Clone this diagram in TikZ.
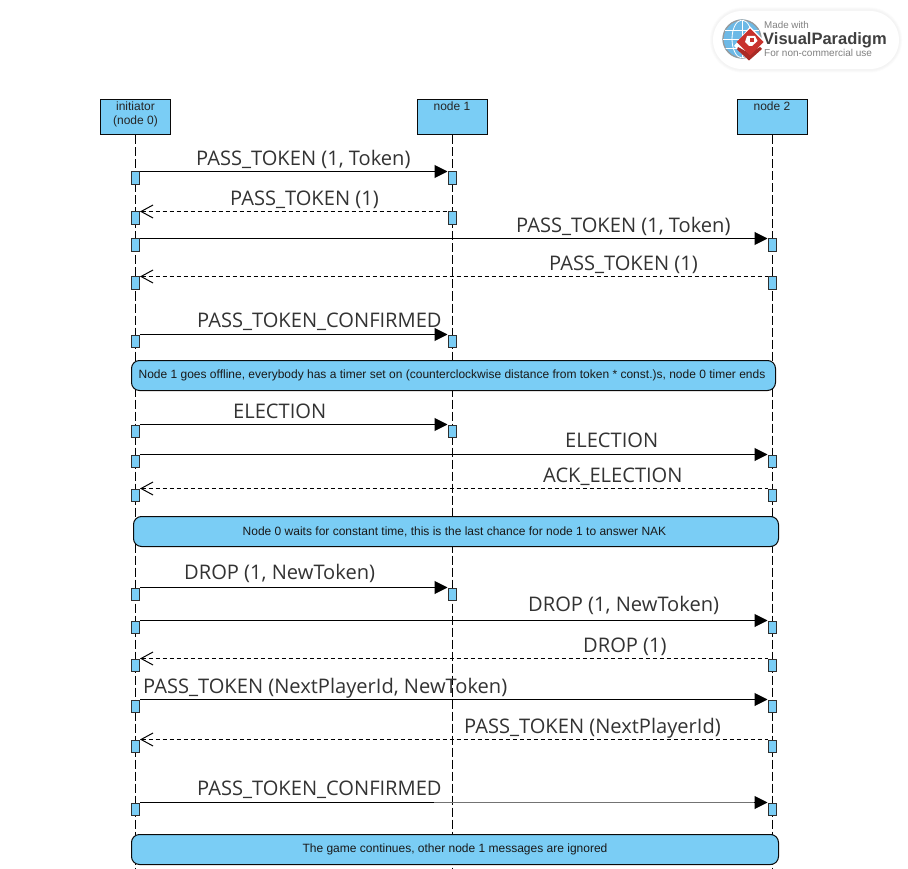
\documentclass[tikz,border=0pt]{standalone}
\usepackage{fontspec}
\setmainfont{Liberation Sans}
\newfontfamily\msgfont{Open Sans}
\usetikzlibrary{arrows.meta,shapes.misc,calc}
\definecolor{vpblue}{HTML}{7ACDF5}
\definecolor{vpink}{HTML}{0A0A0A}
\definecolor{msgtext}{HTML}{333333}
\definecolor{globe}{HTML}{6DB9E6}
\definecolor{logored}{HTML}{C8322D}
\tikzset{
  head/.style={draw=vpink,fill=vpblue,line width=1pt,minimum width=70pt,minimum height=35pt,inner sep=0pt},
  headtext/.style={font=\fontsize{12}{14}\selectfont,text=black!85,align=center,anchor=north,inner sep=0pt},
  life/.style={draw=black,line width=1pt,dash pattern=on 9pt off 3pt},
  act/.style={draw=vpink!85,fill=vpblue,line width=1pt,minimum width=8pt,minimum height=12.5pt,inner sep=0pt,anchor=north,yshift=-.5pt},
  sync/.style={draw=black,line width=1pt,-{Triangle[length=13pt,width=13pt]},shorten >=.5pt},
  reply/.style={draw=black,line width=1pt,dash pattern=on 4pt off 3pt,{Straight Barb[length=12pt,width=13pt,line width=1pt]}-},
  msg/.style={font=\msgfont\fontsize{20.1}{22}\selectfont,text=msgtext,anchor=base west,inner sep=0pt,yshift=-.7pt},
  note/.style={draw=vpink,fill=vpblue,line width=1pt,rounded corners=8pt,minimum height=30pt,inner sep=0pt,anchor=north west},
  notetext/.style={font=\fontsize{12}{14}\selectfont,text=black!90,inner sep=0pt}
}
\begin{document}
\begin{tikzpicture}[x=1pt,y=-1pt]
\useasboundingbox (0,0) rectangle (908,869);
\fill[white] (0,0) rectangle (908,869);
% logo
\foreach \w/\c in {6/black!1.5,4/black!3,2/black!4.5}
  \draw[\c,line width=\w pt,fill=white,rounded corners=29.5pt] (713,10.5) rectangle (899,69.5);
\fill[white,rounded corners=29pt] (713,11) rectangle (899,69);
\fill[globe] (742,39) circle (19.5);
\draw[black!40,line width=1.2pt] (742,39) circle (19);
\begin{scope}
\clip (742,39) circle (19);
\draw[white,line width=.8pt] (723,39) -- (761,39) (723,30) -- (761,30) (723,48) -- (761,48) (742,20) -- (742,58);
\draw[white,line width=.8pt] (742,39) ellipse (10 and 19);
\end{scope}
\fill[white] (750,26.5) -- (766,42.5) -- (750,62) -- (734,46) -- cycle;
\fill[logored!85!black] (738,47) -- (749,53) -- (760,47) -- (762,49) -- (749,60.5) -- (737,49.5) -- cycle;
\fill[logored] (750,28.5) -- (763.5,42) -- (750,55.5) -- (736.5,42) -- cycle;
\fill[white] (747,36) -- (755,36) -- (757.5,41) -- (752,46) -- (749,46) -- (745,42) -- cycle;
\fill[logored] (749.5,38.5) -- (753.5,38.5) -- (753.5,42) -- (749.5,42) -- cycle;
\node[anchor=base west,inner sep=0pt,text=black!50,font=\fontsize{9.8}{11}\selectfont] (logoA) at (764,29) {Made with};
\node[anchor=base west,inner sep=0pt,text=black!75,font=\bfseries\fontsize{16.5}{18}\selectfont] (logoB) at (763,45) {VisualParadigm};
\node[anchor=base west,inner sep=0pt,text=black!50,font=\fontsize{10}{11}\selectfont] (logoC) at (764,57) {For non-commercial use};
% lifelines
\node[head] (h0) at (135.5,117.5) {};
\node[head] (h1) at (452.5,117.5) {};
\node[head] (h2) at (772.5,117.5) {};
\node[headtext] (t0) at (135.5,102) {initiator\\(node 0)};
\node[headtext] (t1) at (452,102) {node 1};
\node[headtext] (t2) at (772,102) {node 2};
\coordinate (e0) at (135.5,869);
\coordinate (e1) at (452.5,869);
\coordinate (e2) at (772.5,869);
\draw[life] (h0.south) -- (e0);
\draw[life] (h1.south) -- (e1);
\draw[life] (h2.south) -- (e2);
% activations
\node[act] (a1) at (135.5,171) {};   \node[act] (b1) at (452.5,171) {};
\node[act] (a2) at (135.5,211) {};   \node[act] (b2) at (452.5,211) {};
\node[act] (a3) at (135.5,238) {};   \node[act] (c3) at (772.5,238) {};
\node[act] (a4) at (135.5,276) {};   \node[act] (c4) at (772.5,276) {};
\node[act] (a5) at (135.5,334) {};   \node[act] (b5) at (452.5,334) {};
\node[act] (a6) at (135.5,424) {};   \node[act] (b6) at (452.5,424) {};
\node[act] (a7) at (135.5,454) {};   \node[act] (c7) at (772.5,454) {};
\node[act] (a8) at (135.5,488) {};   \node[act] (c8) at (772.5,488) {};
\node[act] (a9) at (135.5,587) {};   \node[act] (b9) at (452.5,587) {};
\node[act] (a10) at (135.5,620) {};  \node[act] (c10) at (772.5,620) {};
\node[act] (a11) at (135.5,658) {};  \node[act] (c11) at (772.5,658) {};
\node[act] (a12) at (135.5,699) {};  \node[act] (c12) at (772.5,699) {};
\node[act] (a13) at (135.5,739) {};  \node[act] (c13) at (772.5,739) {};
\node[act] (a14) at (135.5,802) {};  \node[act] (c14) at (772.5,802) {};
% messages
\draw[sync] (a1.north east) -- (b1.north west);
\draw[reply] (a2.north east) -- (b2.north west);
\draw[sync] (a3.north east) -- (c3.north west);
\draw[reply] (a4.north east) -- (c4.north west);
\draw[sync] (a5.north east) -- (b5.north west);
\draw[sync] (a6.north east) -- (b6.north west);
\draw[sync] (a7.north east) -- (c7.north west);
\draw[reply] (a8.north east) -- (c8.north west);
\draw[sync] (a9.north east) -- (b9.north west);
\draw[sync] (a10.north east) -- (c10.north west);
\draw[reply] (a11.north east) -- (c11.north west);
\draw[sync] (a12.north east) -- (c12.north west);
\draw[reply] (a13.north east) -- (c13.north west);
\draw[sync] (a14.north east) -- (c14.north west);
\coordinate (fade) at (434,802.5);
\draw[black!55!white,line width=1.1pt] (fade) -- ($(c14.north west)+(-14,0)$);
% labels
\node[msg] (m1) at (196,165) {PASS\_TOKEN (1, Token)};
\node[msg] (m2) at (230,205) {PASS\_TOKEN (1)};
\node[msg] (m3) at (516,232) {PASS\_TOKEN (1, Token)};
\node[msg] (m4) at (549,270) {PASS\_TOKEN (1)};
\node[msg] (m5) at (197,327) {PASS\_TOKEN\_CONFIRMED};
\node[msg] (m6) at (233,418) {ELECTION};
\node[msg] (m7) at (565,447) {ELECTION};
\node[msg] (m8) at (543,482) {ACK\_ELECTION};
\node[msg] (m9) at (184,579) {DROP (1, NewToken)};
\node[msg] (m10) at (528,611) {DROP (1, NewToken)};
\node[msg] (m11) at (583,652) {DROP (1)};
\node[msg] (m12) at (143,693) {PASS\_TOKEN (NextPlayerId, NewToken)};
\node[msg] (m13) at (464,733) {PASS\_TOKEN (NextPlayerId)};
\node[msg] (m14) at (197,795) {PASS\_TOKEN\_CONFIRMED};
% notes
\node[note,minimum width=644pt] (n1) at (131,360) {};
\node[notetext] (nt1) at (452,375.5) {Node 1 goes offline, everybody has a timer set on (counterclockwise distance from token * const.)s, node 0 timer ends};
\node[note,minimum width=645pt] (n2) at (133,516) {};
\node[notetext] (nt2) at (454.5,531.5) {Node 0 waits for constant time, this is the last chance for node 1 to answer NAK};
\node[note,minimum width=647pt] (n3) at (131,834) {};
\node[notetext] (nt3) at (455,849.5) {The game continues, other node 1 messages are ignored};
\end{tikzpicture}
\end{document}
